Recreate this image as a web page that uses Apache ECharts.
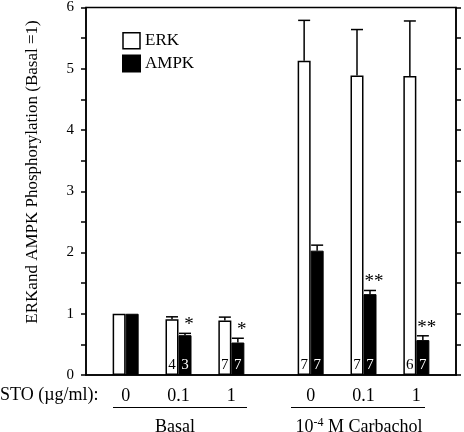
<!DOCTYPE html>
<html>
<head>
<meta charset="utf-8">
<script src="https://cdn.jsdelivr.net/npm/echarts@6/dist/echarts.min.js"></script>
<style>html,body{margin:0;padding:0;background:#fff;}#c{width:464px;height:432px;}</style>
</head>
<body>
<div id="c"></div>
<script>
// ---- data ----
var doseLabels = ['0', '0.1', '1', '0', '0.1', '1'];
var groupLabels = ['Basal', '10{sup|-4} M Carbachol'];
var erkMean = [1.00, 0.91, 0.89, 5.13, 4.89, 4.88];
var erkErr  = [0.00, 0.04, 0.055, 0.66, 0.75, 0.90];
var ampkMean = [1.00, 0.65, 0.53, 2.03, 1.32, 0.57];
var ampkErr  = [0.00, 0.03, 0.07, 0.09, 0.06, 0.07];
var erkN  = ['', '4', '7', '7', '7', '6'];
var ampkN = ['', '3', '7', '7', '7', '7'];
var ampkSig = ['', '*', '*', '', '**', '**'];
var yTicks = [0, 1, 2, 3, 4, 5, 6];

// ---- layout helpers (slots on a category axis) ----
var slotOf = [1, 3, 5, 8, 10, 12];
var nSlots = 14;
var cats = [];
for (var i = 0; i < nSlots; i++) cats.push('');
slotOf.forEach(function (s, k) { cats[s] = doseLabels[k]; });
var FONT = '"Liberation Serif", "Times New Roman", serif';
var BW = 13;

var erkData = slotOf.map(function (s, k) {
  return { value: [s, erkMean[k]], label: { formatter: erkN[k] } };
});
var ampkData = slotOf.map(function (s, k) {
  return { value: [s, ampkMean[k]], label: { formatter: ampkN[k] } };
});
var errData = [];
slotOf.forEach(function (s, k) {
  errData.push([s, erkMean[k], erkErr[k], -1, '']);
  errData.push([s, ampkMean[k], ampkErr[k], 1, ampkSig[k]]);
});

var chart = echarts.init(document.getElementById('c'), null, { renderer: 'canvas' });
chart.setOption({
  animation: false,
  backgroundColor: '#fff',
  textStyle: { fontFamily: FONT },
  grid: { left: 86, right: 8, top: 7, bottom: 57, show: true, borderColor: '#000', borderWidth: 1.5, backgroundColor: 'transparent' },
  legend: {
    orient: 'vertical', left: 117, top: 27, itemWidth: 17, itemHeight: 16, itemGap: 5,
    textStyle: { fontFamily: FONT, fontSize: 17, color: '#000' },
    data: [
      { name: 'ERK', icon: 'rect', itemStyle: { color: '#fff', borderColor: '#000', borderWidth: 1.5 } },
      { name: 'AMPK', icon: 'rect', itemStyle: { color: '#000' } }
    ]
  },
  xAxis: {
    type: 'category', data: cats, boundaryGap: true,
    axisLine: { lineStyle: { color: '#000', width: 1.5 } },
    axisTick: { show: false },
    axisLabel: { interval: 0, color: '#000', fontFamily: FONT, fontSize: 18, margin: 12 }
  },
  yAxis: [{
    type: 'value', min: 0, max: 6, interval: 0.5, position: 'left',
    axisLine: { show: true, lineStyle: { color: '#000', width: 1.5 } },
    axisTick: { show: true, inside: false, length: 5, lineStyle: { color: '#000', width: 1.5 } },
    axisLabel: { color: '#000', fontFamily: FONT, fontSize: 15, margin: 12,
      formatter: function (v) { return yTicks.indexOf(v) >= 0 ? String(v) : ''; } },
    splitLine: { show: false }
  }, {
    type: 'value', min: 0, max: 6, interval: 0.5, position: 'right',
    axisLine: { show: true, lineStyle: { color: '#000', width: 1.5 } },
    axisTick: { show: true, inside: false, length: 5, lineStyle: { color: '#000', width: 1.5 } },
    axisLabel: { show: false }, splitLine: { show: false }
  }],
  series: [{
    name: 'ERK', type: 'bar', barWidth: BW, barGap: '0%', data: erkData,
    itemStyle: { color: '#fff', borderColor: '#000', borderWidth: 1.5 },
    label: { show: true, position: 'insideBottom', distance: 2, color: '#000', fontFamily: FONT, fontSize: 15 }
  }, {
    name: 'AMPK', type: 'bar', barWidth: BW, barGap: '0%', data: ampkData,
    itemStyle: { color: '#000', borderColor: '#000', borderWidth: 1 },
    label: { show: true, position: 'insideBottom', distance: 2, color: '#fff', fontFamily: FONT, fontSize: 15 }
  }, {
    type: 'custom', data: errData, z: 5,
    renderItem: function (params, api) {
      var s = api.value(0), m = api.value(1), e = api.value(2), side = api.value(3);
      var sig = errData[params.dataIndex][4];
      var base = api.coord([s, m]);
      var top = api.coord([s, m + e]);
      var cx = base[0] + side * BW / 2;
      var children = [];
      if (e > 0) {
        children.push({ type: 'line', shape: { x1: cx, y1: base[1], x2: cx, y2: top[1] }, style: { stroke: '#000', lineWidth: 1.5 } });
        children.push({ type: 'line', shape: { x1: cx - 6, y1: top[1], x2: cx + 6, y2: top[1] }, style: { stroke: '#000', lineWidth: 1.5 } });
      }
      if (sig) {
        children.push({ type: 'text', x: cx + 4, y: top[1] - 8,
          style: { text: sig, fill: '#000', font: '19px ' + FONT, textAlign: 'center', textVerticalAlign: 'middle' } });
      }
      return { type: 'group', children: children };
    }
  }],
  graphic: [
    { type: 'text', left: 0, top: 386, style: { text: 'STO (\u00b5g/ml):', fill: '#000', font: '18px ' + FONT } },
    { type: 'line', shape: { x1: 113, y1: 407.5, x2: 247, y2: 407.5 }, style: { stroke: '#000', lineWidth: 1.2 } },
    { type: 'line', shape: { x1: 291, y1: 407.5, x2: 425, y2: 407.5 }, style: { stroke: '#000', lineWidth: 1.2 } },
    { type: 'text', x: 175, y: 427, style: { text: groupLabels[0], fill: '#000', font: '18px ' + FONT, textAlign: 'center', textVerticalAlign: 'middle' } },
    { type: 'text', x: 359, y: 427, style: { text: groupLabels[1], fill: '#000', font: '18px ' + FONT, textAlign: 'center', textVerticalAlign: 'middle',
        rich: { sup: { fontSize: 12, verticalAlign: 'top', padding: [0, 0, 8, 0], fontFamily: FONT, fill: '#000' } } } },
    { type: 'text', x: 33, y: 172, rotation: Math.PI / 2,
      style: { text: 'ERKand AMPK Phosphorylation (Basal =1)', fill: '#000', font: '17px ' + FONT, textAlign: 'center', textVerticalAlign: 'middle' } }
  ]
});
</script>
</body>
</html>
